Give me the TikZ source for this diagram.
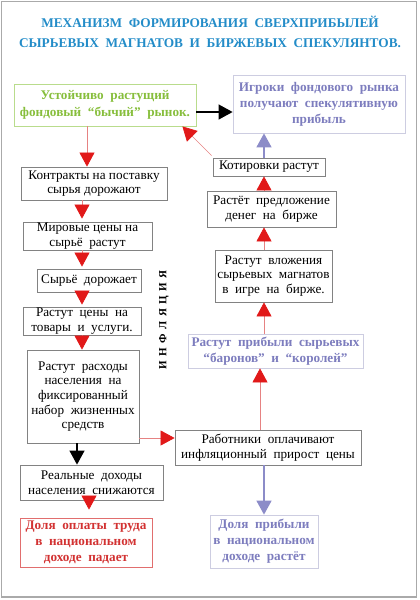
\documentclass[tikz,border=0pt]{standalone}
\usepackage{fontspec}
\setmainfont{Liberation Serif}
\usetikzlibrary{arrows.meta}
\definecolor{ttl}{RGB}{35,140,200}
\definecolor{grn}{RGB}{135,190,60}
\definecolor{grnbox}{RGB}{185,220,140}
\definecolor{lav}{RGB}{125,125,190}
\definecolor{lavbox}{RGB}{205,205,225}
\definecolor{lavline}{RGB}{140,140,200}
\definecolor{rtxt}{RGB}{210,50,50}
\definecolor{rbox}{RGB}{225,110,110}
\definecolor{rline}{RGB}{230,130,130}
\definecolor{rhead}{RGB}{225,25,25}
\definecolor{boxgray}{RGB}{130,130,130}
\definecolor{framegray}{RGB}{170,170,170}
\begin{document}
\begin{tikzpicture}[x=1pt,y=-1pt,
  every node/.style={inner sep=0pt, align=center, font=\fontsize{13.2}{14.7}\selectfont},
  box/.style={draw=boxgray, line width=0.8pt},
  gbox/.style={draw=grnbox, line width=0.8pt, text=grn, font=\bfseries\fontsize{13.2}{17}\selectfont},
  lbox/.style={draw=lavbox, line width=0.8pt, text=lav, font=\bfseries\fontsize{13.2}{16}\selectfont},
  rbx/.style={draw=rbox, line width=0.8pt, text=rtxt, font=\bfseries\fontsize{13.2}{16}\selectfont},
  redarr/.style={draw=rline, line width=0.7pt, -{Triangle[width=15pt,length=14pt,color=rhead,fill=rhead]}},
  blkarr/.style={draw=black, line width=1.2pt, -{Triangle[width=15pt,length=14pt,color=black,fill=black]}},
  lavarr/.style={draw=lavline, line width=1.6pt, -{Triangle[width=15pt,length=14pt,color=lavline,fill=lavline]}}
]
\useasboundingbox (0,0) rectangle (420,600);
\draw[framegray, line width=1.5pt] (1.5,1.5) rectangle (416.5,597);

\node[font=\bfseries\fontsize{13.3}{20}\selectfont, text=ttl] (title) at (210,32)
  {МЕХАНИЗМ\ \ ФОРМИРОВАНИЯ\ \ СВЕРХПРИБЫЛЕЙ\\СЫРЬЕВЫХ\ \ МАГНАТОВ\ \ И\ \ БИРЖЕВЫХ\ \ СПЕКУЛЯНТОВ.};

\node[gbox, minimum width=182pt, minimum height=42pt] (green) at (105,105)
  {Устойчиво\ \ растущий\\фондовый\ \ “бычий”\ \ рынок.};
\node[lbox, minimum width=172pt, minimum height=58pt] (igroki) at (319,104)
  {Игроки\ \ фондового\ \ рынка\\получают\ \ спекулятивную\\прибыль};
\node[box, minimum width=112pt, minimum height=18pt] (kotir) at (269,167) {Котировки растут};
\node[box, minimum width=129pt, minimum height=36pt] (predl) at (271.5,209)
  {Растёт\ \ предложение\\денег\ \ на\ \ бирже};
\node[box, minimum width=117pt, minimum height=52pt] (vlozh) at (273.5,276)
  {Растут\ \ вложения\\сырьевых\ \ магнатов\\в\ \ игре\ \ на\ \ бирже.};
\node[lbox, minimum width=175pt, minimum height=34pt] (pribyl) at (275.5,351)
  {Растут\ \ прибыли\ \ сырьевых\\“баронов”\ \ и\ \ “королей”};
\node[box, minimum width=186pt, minimum height=35pt] (rabot) at (268,447.5)
  {Работники\ \ оплачивают\\инфляционный\ \ прирост\ \ цены};
\node[lbox, minimum width=108pt, minimum height=53pt] (dolyaP) at (264,541.5)
  {Доля\ \ прибыли\\в\ \ национальном\\доходе\ \ растёт};

\node[box, minimum width=146pt, minimum height=33pt] (contr) at (94,183.5)
  {Контракты на поставку\\сырья дорожают};
\node[box, minimum width=129pt, minimum height=28pt] (mir) at (87.5,236)
  {Мировые цены на\\сырьё\ \ растут};
\node[box, minimum width=104pt, minimum height=23pt] (syr) at (89,280.5)
  {Сырьё\ \ дорожает};
\node[box, minimum width=118pt, minimum height=28pt] (ceny) at (82,321)
  {Растут\ \ цены\ \ на\\товары\ \ и\ \ услуги.};
\node[box, minimum width=112pt, minimum height=93pt] (rash) at (83,396.5)
  {Растут\ \ расходы\\населения\ \ на\\фиксированный\\набор\ \ жизненных\\средств};
\node[box, minimum width=143pt, minimum height=35pt] (real) at (91.5,482.5)
  {Реальные\ \ доходы\\населения\ \ снижаются};
\node[rbx, minimum width=132pt, minimum height=49pt] (dolyaO) at (86,542.5)
  {Доля\ \ оплаты\ \ труда\\в\ \ национальном\\доходе\ \ падает};

\node[rotate=90, font=\bfseries\fontsize{11}{11}\selectfont] (infl) at (164,320)
  {И\hspace{4.5pt}Н\hspace{4.5pt}Ф\hspace{4.5pt}Л\hspace{4.5pt}Я\hspace{4.5pt}Ц\hspace{4.5pt}И\hspace{4.5pt}Я};

% left column
\coordinate (xa) at (87,0);
\coordinate (xb) at (82,0);
\coordinate (xc) at (77,0);
\coordinate (xd) at (89,0);
\draw[redarr] (xa |- green.south) -- (xa |- contr.north);
\draw[redarr] (xb |- contr.south) -- ([yshift=3pt]xb |- mir.north);
\draw[redarr] (xb |- mir.south) -- ([yshift=2pt]xb |- syr.north);
\draw[redarr] (xb |- syr.south) -- ([yshift=2pt]xb |- ceny.north);
\draw[redarr] (xb |- ceny.south) -- (xb |- rash.north);
\draw[blkarr] (xc |- rash.south) -- (xc |- real.north);
\draw[redarr] (xd |- real.south) -- ([yshift=8pt]xd |- dolyaO.north);

% cross
\coordinate (yr) at (0,438);
\draw[redarr] (rash.east |- yr) -- (rabot.west |- yr);
\coordinate (yb) at (0,112);
\draw[blkarr] (green.east |- yb) -- (igroki.west |- yb);
\draw[redarr] ([xshift=-1pt,yshift=2pt]kotir.north west) -- ([xshift=-14pt]green.south east);

% right column
\coordinate (xr) at (264,0);
\coordinate (xs) at (260,0);
\draw[lavarr] (xr |- kotir.north) -- (xr |- igroki.south);
\draw[redarr] (xr |- predl.north) -- (xr |- kotir.south);
\draw[redarr] (xr |- vlozh.north) -- (xr |- predl.south);
\draw[redarr] (xr |- pribyl.north) -- (xr |- vlozh.south);
\draw[redarr] (xs |- rabot.north) -- (xs |- pribyl.south);
\draw[lavarr] (xr |- rabot.south) -- (xr |- dolyaP.north);
\end{tikzpicture}
\end{document}
